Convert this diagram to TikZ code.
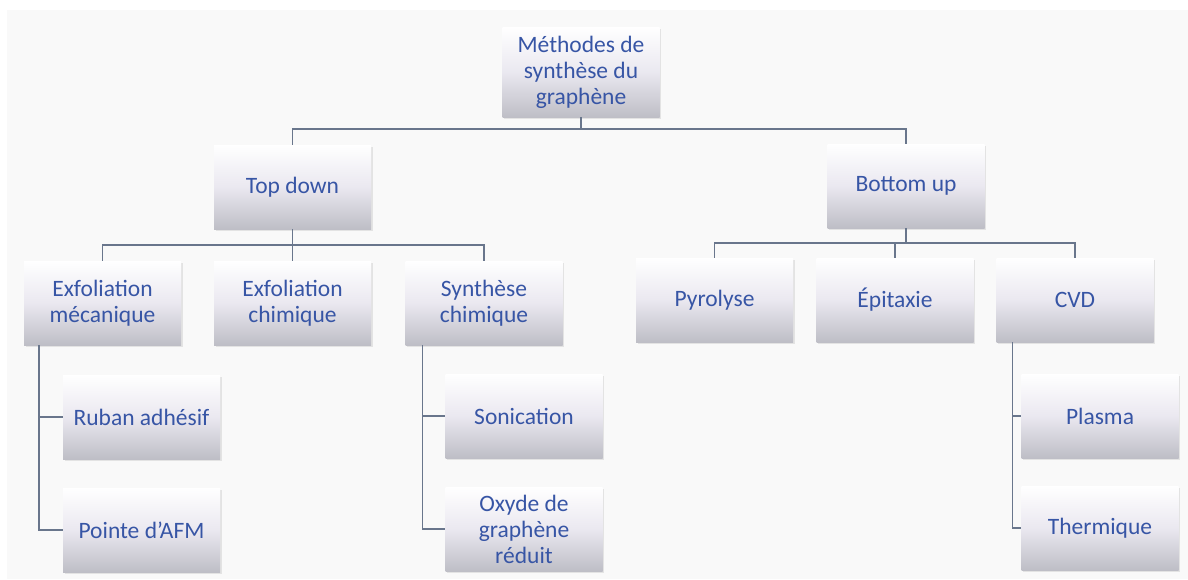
\documentclass[tikz,border=0pt]{standalone}
\usepackage{fontspec}
\setmainfont{Carlito}
\usetikzlibrary{shadows}
\definecolor{txtblue}{RGB}{55,85,165}
\definecolor{linec}{RGB}{105,118,140}
\definecolor{boxbot}{RGB}{190,190,198}
\definecolor{boxmid}{RGB}{234,232,240}
\definecolor{bgc}{RGB}{249,249,249}
\begin{document}
\begin{tikzpicture}[x=1pt,y=-1pt,
  box/.style={minimum width=157pt, minimum height=84pt, inner sep=2pt, align=center,
    top color=white, bottom color=boxbot, middle color=boxmid, text=txtblue,
    font=\fontsize{23.5}{26}\selectfont,
    drop shadow={opacity=0.18, shadow xshift=1.5pt, shadow yshift=-1.5pt}},
  conn/.style={draw=linec, line width=1.6pt}]
\useasboundingbox (0,0) rectangle (1188,579);
\fill[white] (0,0) rectangle (1188,579);
\fill[bgc] (7,10) rectangle (1188,579);
% nodes
\node[box, minimum height=90pt] (root) at (581,72) {Méthodes de\\synthèse du\\graphène};
\node[box] (td) at (292.5,187) {Top down};
\node[box] (bu) at (906,186) {Bottom up};
\node[box] (em) at (102.5,303) {Exfoliation\\mécanique};
\node[box] (ec) at (292.5,303) {Exfoliation\\chimique};
\node[box] (sc) at (484,303) {Synthèse\\chimique};
\node[box] (py) at (714.5,300) {Pyrolyse};
\node[box] (ep) at (895,300) {Épitaxie};
\node[box] (cv) at (1075,300) {CVD};
\node[box] (rb) at (141.5,417) {Ruban adhésif};
\node[box] (pa) at (141.5,530) {Pointe d'AFM};
\node[box] (so) at (524,416) {Sonication};
\node[box] (ox) at (524,529) {Oxyde de\\graphène\\réduit};
\node[box] (pl) at (1100,416) {Plasma};
\node[box] (th) at (1100,528) {Thermique};
% connectors
\coordinate (b0) at (581,129);
\draw[conn] (root.south) -- (b0) -| (td.north);
\draw[conn] (b0) -| (bu.north);
\coordinate (b1) at (292.5,245);
\draw[conn] (td.south) -- (b1) -| (em.north);
\draw[conn] (b1) -| (ec.north);
\draw[conn] (b1) -| (sc.north);
\coordinate (b2) at (906,243);
\draw[conn] (bu.south) -- (b2) -| (py.north);
\draw[conn] (b2) -| (ep.north);
\draw[conn] (b2) -| (cv.north);
\draw[conn] ([xshift=15pt]em.south west) |- (rb.west);
\draw[conn] ([xshift=15pt]em.south west) |- (pa.west);
\draw[conn] ([xshift=17pt]sc.south west) |- (so.west);
\draw[conn] ([xshift=17pt]sc.south west) |- (ox.west);
\draw[conn] ([xshift=16pt]cv.south west) |- (pl.west);
\draw[conn] ([xshift=16pt]cv.south west) |- (th.west);
\end{tikzpicture}
\end{document}
